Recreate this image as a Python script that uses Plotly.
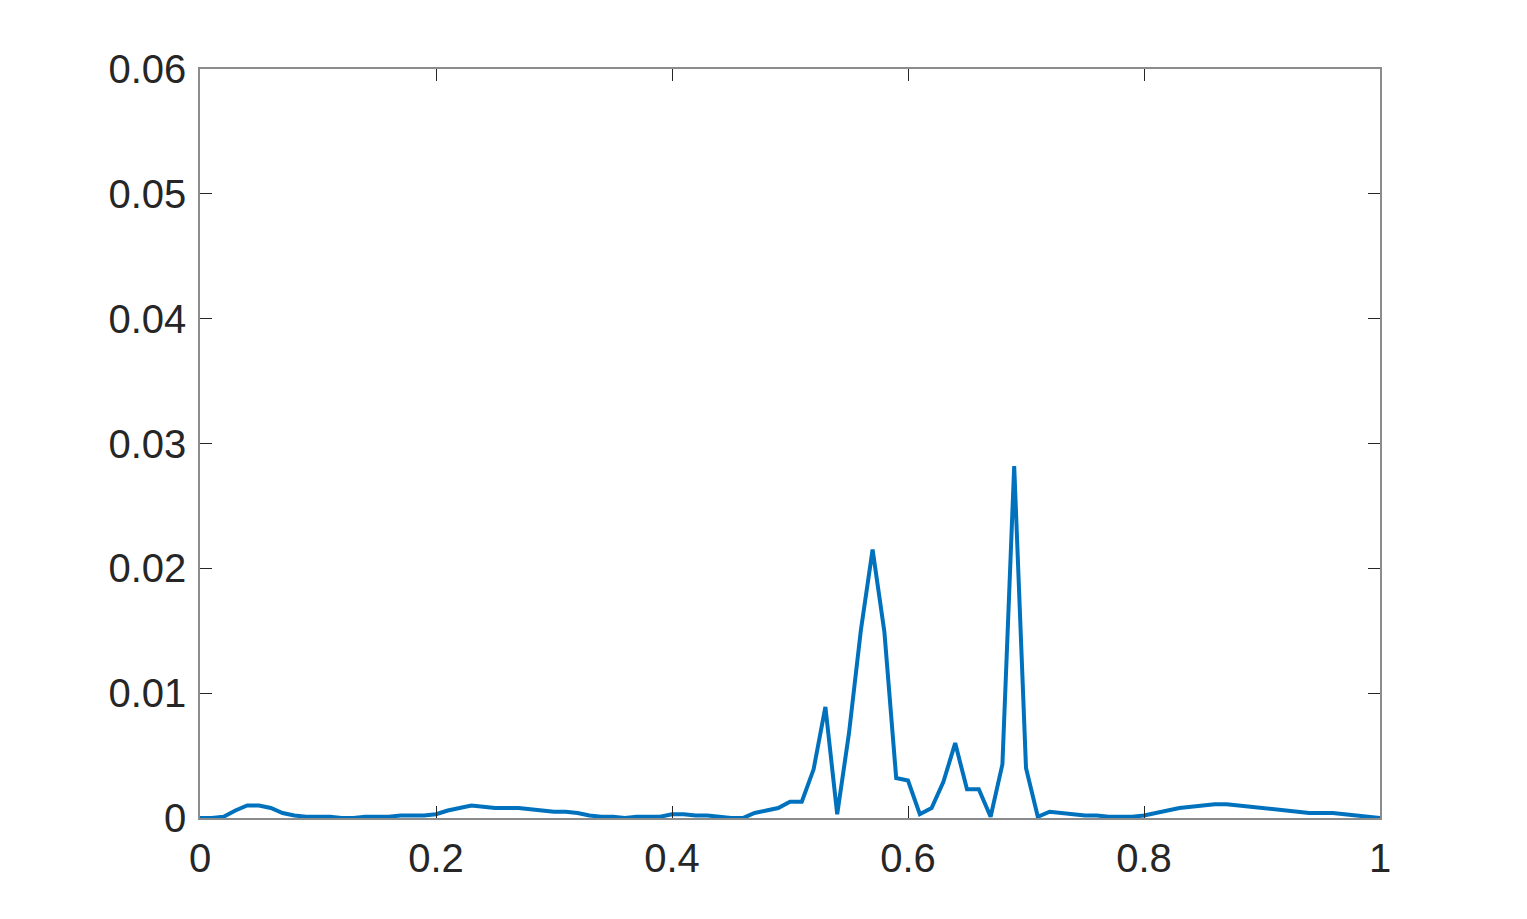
import plotly.graph_objects as go
import numpy as np

# spectrum sampled every 0.01 on [0, 1]
freq = [round(i * 0.01, 2) for i in range(101)]
amp = [
    0.0, 0.0, 0.0001, 0.0006, 0.001, 0.001, 0.0008, 0.0004, 0.0002, 0.0001,
    0.0001, 0.0001, 0.0, 0.0, 0.0001, 0.0001, 0.0001, 0.0002, 0.0002, 0.0002,
    0.0003, 0.0006, 0.0008, 0.001, 0.0009, 0.0008, 0.0008, 0.0008, 0.0007, 0.0006,
    0.0005, 0.0005, 0.0004, 0.0002, 0.0001, 0.0001, 0.0, 0.0001, 0.0001, 0.0001,
    0.0003, 0.0003, 0.0002, 0.0002, 0.0001, 0.0, 0.0, 0.0004, 0.0006, 0.0008,
    0.0013, 0.0013, 0.0039, 0.0089, 0.0003, 0.0068, 0.015, 0.0215, 0.0149, 0.0032,
    0.003, 0.0003, 0.0008, 0.0029, 0.006, 0.0023, 0.0023, 0.0001, 0.0043, 0.0282,
    0.004, 0.0001, 0.0005, 0.0004, 0.0003, 0.0002, 0.0002, 0.0001, 0.0001, 0.0001,
    0.0002, 0.0004, 0.0006, 0.0008, 0.0009, 0.001, 0.0011, 0.0011, 0.001, 0.0009,
    0.0008, 0.0007, 0.0006, 0.0005, 0.0004, 0.0004, 0.0004, 0.0003, 0.0002, 0.0001,
    0.0,
]

xticks = [0, 0.2, 0.4, 0.6, 0.8, 1]
xticktext = ['0', '0.2', '0.4', '0.6', '0.8', '1']
yticks = [0, 0.01, 0.02, 0.03, 0.04, 0.05, 0.06]
yticktext = ['0', '0.01', '0.02', '0.03', '0.04', '0.05', '0.06']

fig = go.Figure()
fig.add_trace(go.Scatter(x=freq, y=amp, mode='lines',
                         line=dict(color='#0072BD', width=4)))

axis_common = dict(showline=True, mirror='ticks', linecolor='#8c8c8c', linewidth=1.5,
                   ticks='inside', ticklen=12, tickcolor='#262626', tickwidth=1,
                   showgrid=False, zeroline=False,
                   tickfont=dict(family='Liberation Sans, Arial, sans-serif', size=40, color='#262626'))

fig.update_xaxes(range=[0, 1], tickvals=xticks, ticktext=xticktext, ticklabelstandoff=4, **axis_common)
fig.update_yaxes(range=[0, 0.06], tickvals=yticks, ticktext=yticktext, ticklabelstandoff=4, **axis_common)

fig.update_layout(width=1527, height=919, showlegend=False,
                  paper_bgcolor='white', plot_bgcolor='white',
                  margin=dict(l=192, r=155, t=61, b=109))

fig.write_html("out.html")
